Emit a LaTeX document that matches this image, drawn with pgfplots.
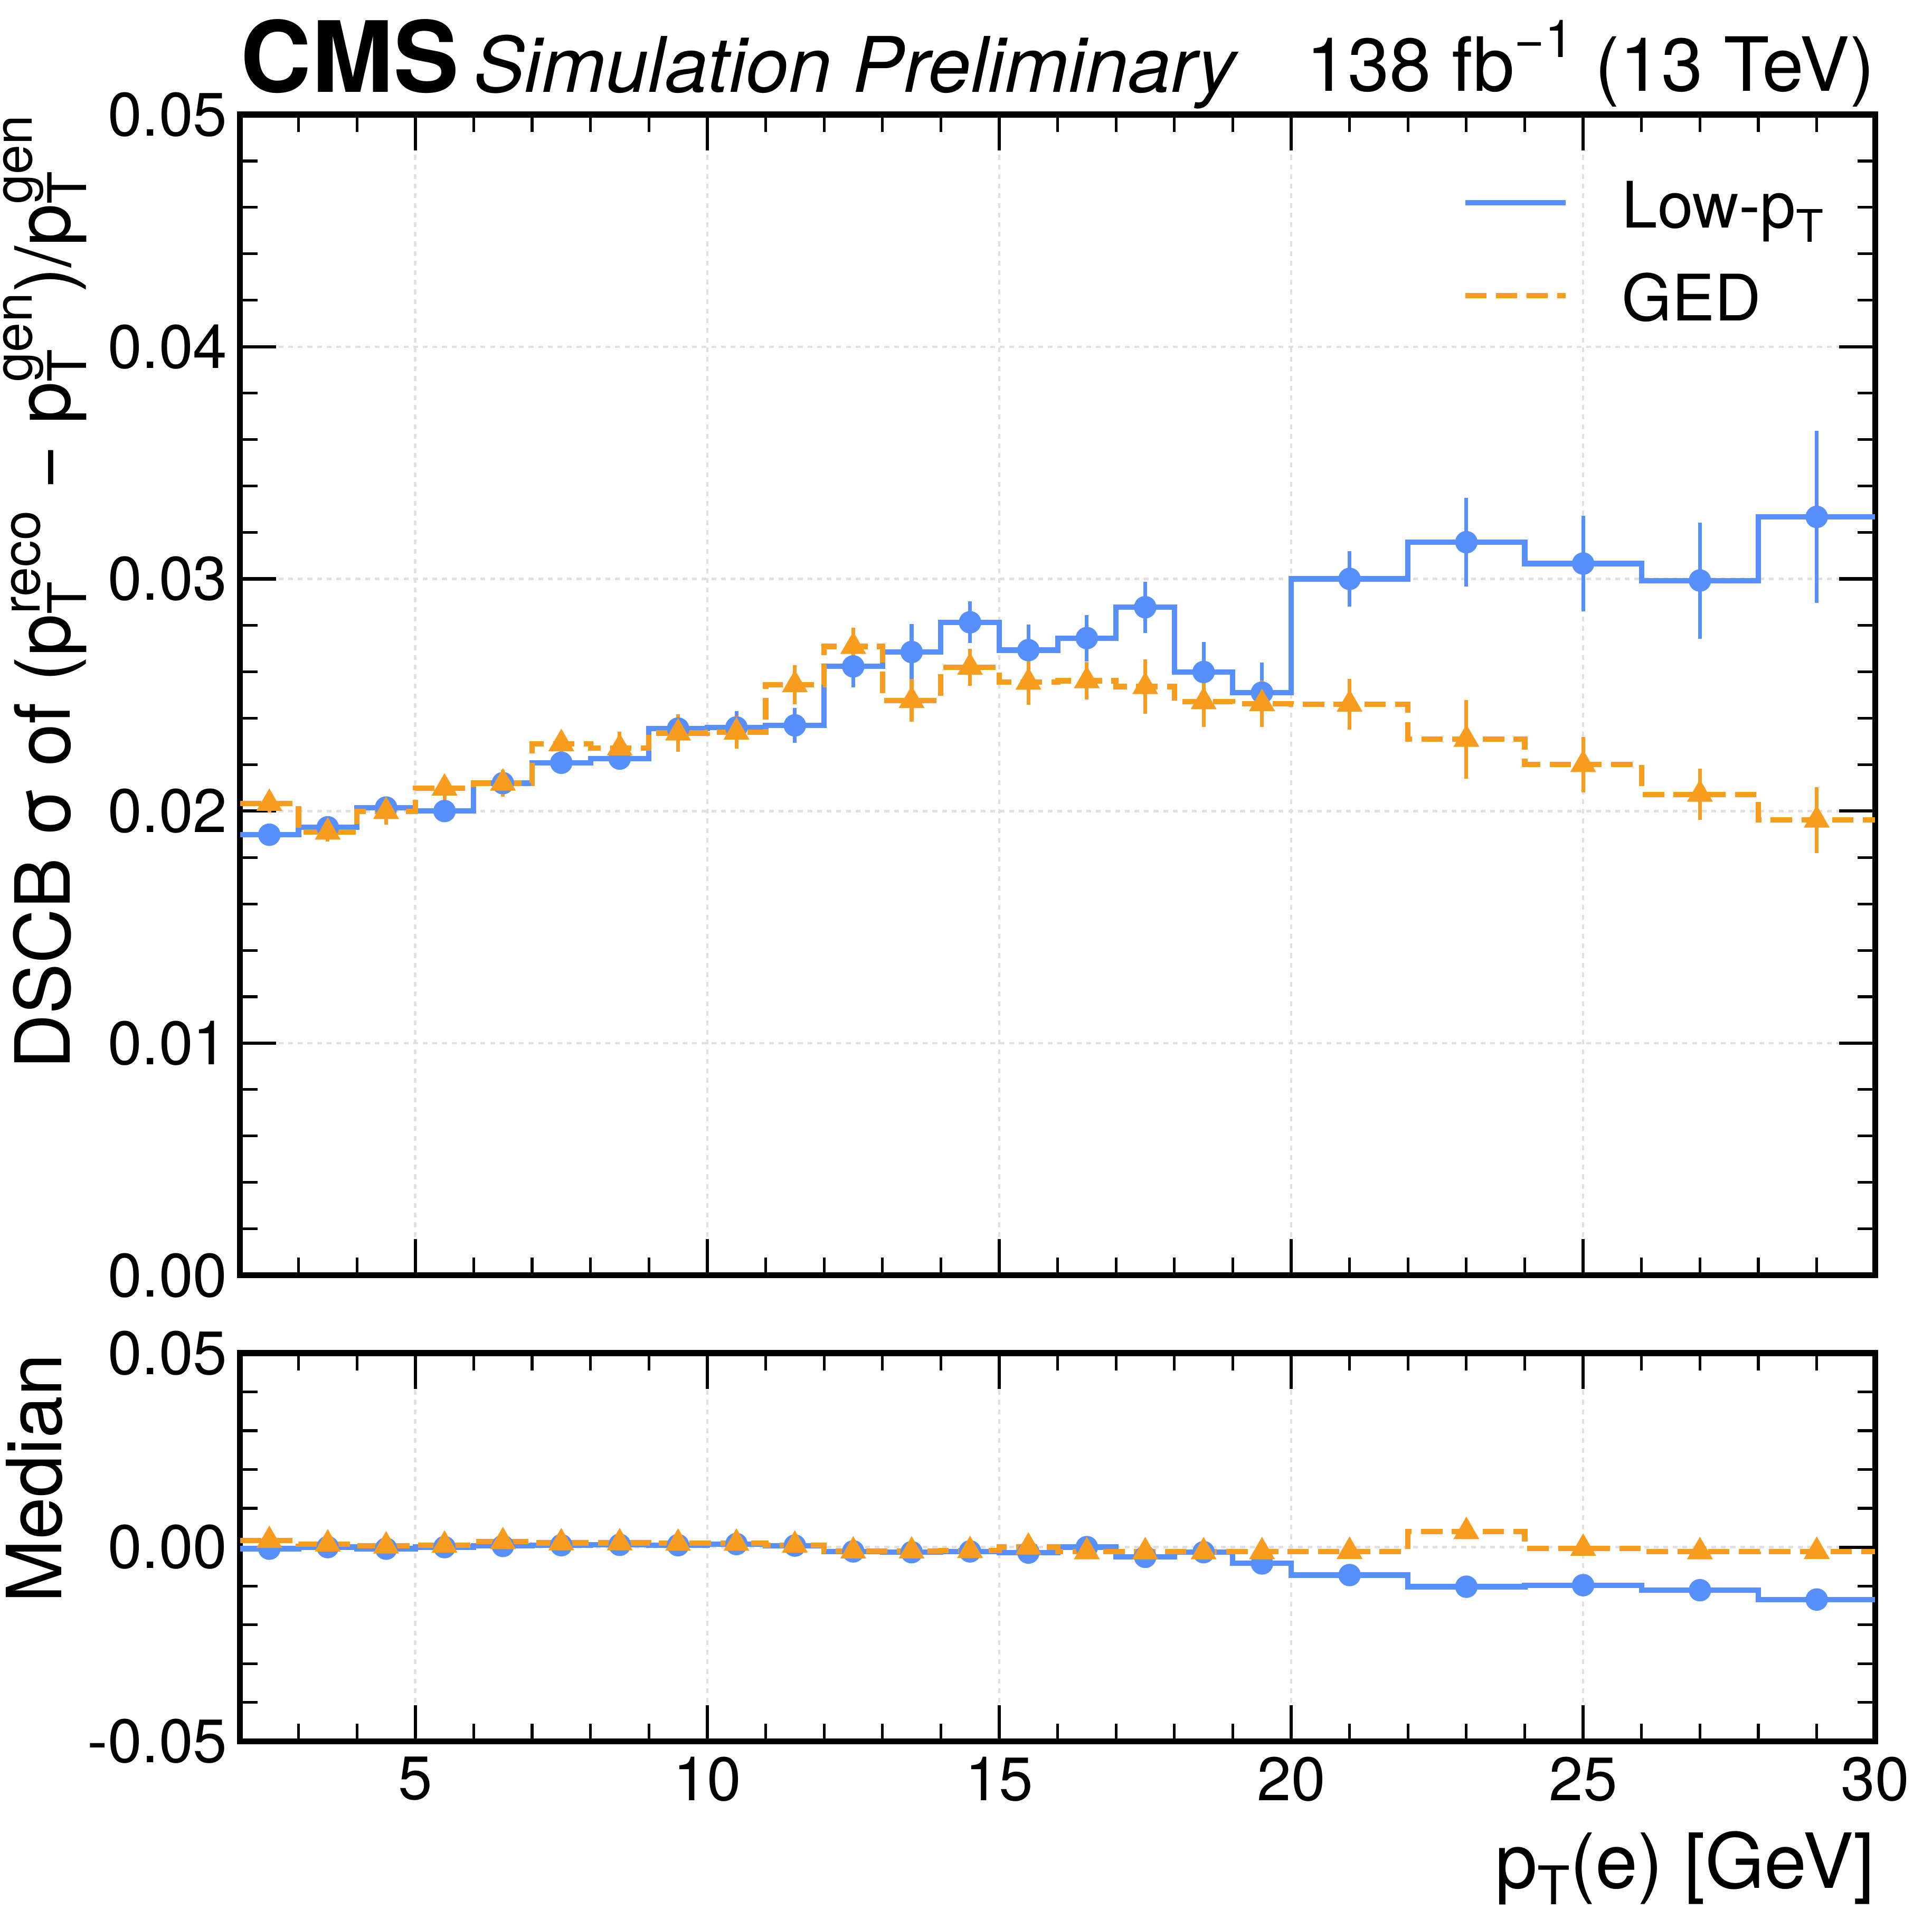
\documentclass[border=0pt]{standalone}
\usepackage{fontspec}
\setmainfont{TeX Gyre Heros}
\usepackage{graphicx}
\usepackage{pgfplots}
\pgfplotsset{compat=1.18}
\definecolor{cmsblue}{HTML}{5790FC}
\definecolor{cmsorange}{HTML}{F89C20}
\newcommand{\ssub}[1]{\raisebox{-0.22em}{\scalebox{0.7}{#1}}}
\newcommand{\ssup}[1]{\raisebox{0.45em}{\scalebox{0.7}{#1}}}
\newcommand{\psubsup}[2]{p\rlap{\ssub{T}}\raisebox{#1}{\scalebox{0.7}{#2}}}
\pgfplotsset{
 cmsaxis/.style={
  scale only axis, width=612.1pt, xmin=2, xmax=30,
  axis line style={line width=2.2pt},
  tick align=inside, xtick pos=both, ytick pos=both,
  xticklabel pos=lower, yticklabel pos=left,
  major tick length=13.5pt, minor tick length=6.6pt,
  major tick style={line width=1.2pt, black},
  minor tick style={line width=1.0pt, black},
  xtick={5,10,15,20,25,30},
  minor xtick={2,3,4,6,7,8,9,11,12,13,14,16,17,18,19,21,22,23,24,26,27,28,29},
  grid=major,
  major grid style={line width=0.9pt, black!12, dash pattern=on 1.8pt off 1.8pt},
  scaled y ticks=false, scaled x ticks=false,
  tick label style={font=\fontsize{23}{27}\selectfont, inner sep=0pt},
  yticklabel style={xshift=-4.6pt},
  xticklabel style={yshift=-5.6pt},
  label style={font=\fontsize{28.5}{34}\selectfont, inner sep=0pt},
 },
 stepblue/.style={const plot, color=cmsblue, line width=2.0pt, no marks},
 steporange/.style={const plot, color=cmsorange, line width=2.0pt, dash pattern=on 8pt off 3.5pt, no marks},
 ptblue/.style={only marks, color=cmsblue, mark=*, mark size=4.0pt,
   error bars/y dir=both, error bars/y explicit, error bars/error mark=none,
   error bars/error bar style={line width=1.4pt, solid, color=cmsblue}},
 ptorange/.style={only marks, color=cmsorange, mark=triangle*, mark size=5.2pt,
   error bars/y dir=both, error bars/y explicit, error bars/error mark=none,
   error bars/error bar style={line width=1.4pt, solid, color=cmsorange}},
}
\begin{document}
\begin{tikzpicture}
\useasboundingbox (-89.9pt,-244.3pt) rectangle (633.4pt,477.4pt);
\begin{axis}[cmsaxis, name=top, at={(0pt,0pt)}, anchor=south west, height=434.5pt,
  ymin=0, ymax=0.05,
  ytick={0,0.01,0.02,0.03,0.04,0.05}, yticklabels={0.00,0.01,0.02,0.03,0.04,0.05},
  minor ytick={0.002,0.004,0.006,0.008,0.012,0.014,0.016,0.018,0.022,0.024,0.026,0.028,0.032,0.034,0.036,0.038,0.042,0.044,0.046,0.048},
  xticklabels={},
  ylabel={DSCB σ of (\psubsup{0.39em}{reco} − \psubsup{0.5em}{gen})/\psubsup{0.5em}{gen}},
  ylabel style={at={(axis description cs:-0.1042,1)}, anchor=base east},
  legend style={at={(axis description cs:0.7476,0.9415)}, anchor=north west, draw=none, fill=none,
    inner sep=0pt, outer sep=0pt, row sep=12.8pt, column sep=20pt,
    font=\fontsize{24}{28}\selectfont, nodes={inner sep=0pt, text height=17pt, text depth=5pt}},
  legend cell align=left,
  legend image code/.code={\draw[#1] (0pt,3.4pt) -- (37.7pt,3.4pt);},
]
\addplot[stepblue] coordinates {(2,0.01898) (3,0.0193) (4,0.02015) (5,0.0200) (6,0.0212) (7,0.02208) (8,0.02226) (9,0.02355) (10,0.0236) (11,0.02369) (12,0.02623) (13,0.02685) (14,0.02813) (15,0.02693) (16,0.02745) (17,0.02878) (18,0.02599) (19,0.0251) (20,0.0300) (22,0.03158) (24,0.03066) (26,0.02993) (28,0.03267) (30,0.03267)};
\addlegendentry{Low-p\ssub{T}}
\addplot[ptblue, forget plot] coordinates {
 (2.5,0.01898) +- (0,0.0003) (3.5,0.0193) +- (0,0.0003) (4.5,0.02015) +- (0,0.0003) (5.5,0.0200) +- (0,0.0003)
 (6.5,0.0212) +- (0,0.0003) (7.5,0.02208) +- (0,0.0004) (8.5,0.02226) +- (0,0.0004) (9.5,0.02355) +- (0,0.0006)
 (10.5,0.0236) +- (0,0.0007) (11.5,0.02369) +- (0,0.00075) (12.5,0.02623) +- (0,0.0009) (13.5,0.02685) +- (0,0.0012)
 (14.5,0.02813) +- (0,0.0009) (15.5,0.02693) +- (0,0.0011) (16.5,0.02745) +- (0,0.001) (17.5,0.02878) +- (0,0.0011)
 (18.5,0.02599) +- (0,0.0013) (19.5,0.0251) +- (0,0.0013) (21,0.0300) +- (0,0.0012) (23,0.03158) +- (0,0.0019)
 (25,0.03066) +- (0,0.00205) (27,0.02993) +- (0,0.0025) (29,0.03267) +- (0,0.0037)};
\addplot[steporange] coordinates {(2,0.02033) (3,0.01909) (4,0.01998) (5,0.02099) (6,0.0212) (7,0.0229) (8,0.02271) (9,0.02336) (10,0.0234) (11,0.02544) (12,0.02709) (13,0.02476) (14,0.02619) (15,0.02555) (16,0.02561) (17,0.02536) (18,0.02471) (19,0.02463) (20,0.0246) (22,0.02309) (24,0.0220) (26,0.02072) (28,0.01961) (30,0.01961)};
\addlegendentry{GED}
\addplot[ptorange, forget plot] coordinates {
 (2.5,0.02033) +- (0,0.0004) (3.5,0.01909) +- (0,0.0004) (4.5,0.01998) +- (0,0.00056) (5.5,0.02099) +- (0,0.0005)
 (6.5,0.0212) +- (0,0.00058) (7.5,0.0229) +- (0,0.00055) (8.5,0.02271) +- (0,0.0007) (9.5,0.02336) +- (0,0.0008)
 (10.5,0.0234) +- (0,0.0007) (11.5,0.02544) +- (0,0.00084) (12.5,0.02709) +- (0,0.0008) (13.5,0.02476) +- (0,0.00092)
 (14.5,0.02619) +- (0,0.0008) (15.5,0.02555) +- (0,0.00097) (16.5,0.02561) +- (0,0.0008) (17.5,0.02536) +- (0,0.00118)
 (18.5,0.02471) +- (0,0.00108) (19.5,0.02463) +- (0,0.001) (21,0.0246) +- (0,0.0011) (23,0.02309) +- (0,0.0017)
 (25,0.0220) +- (0,0.0012) (27,0.02072) +- (0,0.0011) (29,0.01961) +- (0,0.00143)};
\end{axis}
\node[anchor=base west, inner sep=0pt, yshift=8.5pt, font=\fontsize{36.8}{40}\selectfont\bfseries] (cms) at (top.north west) {CMS};
\node[anchor=base west, inner sep=0pt, xshift=5pt, font=\fontsize{28.7}{34}\selectfont\itshape] at (cms.base east) {Simulation Preliminary};
\node[anchor=base east, inner sep=0pt, yshift=8.8pt, font=\fontsize{28}{32}\selectfont] at (top.north east) {138 fb\ssup{−1} (13 TeV)};
\begin{axis}[cmsaxis, at={(0pt,-29.1pt)}, anchor=north west, height=145.3pt,
  ymin=-0.05, ymax=0.05,
  ytick={-0.05,0,0.05}, yticklabels={-0.05,0.00,0.05},
  minor ytick={-0.04,-0.03,-0.02,-0.01,0.01,0.02,0.03,0.04},
  xticklabels={5,10,15,20,25,30},
  xlabel={p\ssub{T}(e) [GeV]},
  xlabel style={at={(axis description cs:1,-0.378)}, anchor=base east},
  ylabel={Median},
  ylabel style={at={(axis description cs:-0.1091,1)}, anchor=base east},
]
\addplot[stepblue] coordinates {(2,-0.0004) (3,0.0) (4,-0.0004) (5,0.0) (6,0.0003) (7,0.0005) (8,0.0006) (9,0.0005) (10,0.0008) (11,0.0004) (12,-0.0011) (13,-0.0013) (14,-0.0011) (15,-0.0014) (16,0.0) (17,-0.0025) (18,-0.0013) (19,-0.0042) (20,-0.0072) (22,-0.0102) (24,-0.0098) (26,-0.0111) (28,-0.0135) (30,-0.0135)};
\addplot[ptblue] coordinates {(2.5,-0.0004) (3.5,0.0) (4.5,-0.0004) (5.5,0.0) (6.5,0.0003) (7.5,0.0005) (8.5,0.0006) (9.5,0.0005) (10.5,0.0008) (11.5,0.0004) (12.5,-0.0011) (13.5,-0.0013) (14.5,-0.0011) (15.5,-0.0014) (16.5,0.0) (17.5,-0.0025) (18.5,-0.0013) (19.5,-0.0042) (21,-0.0072) (23,-0.0102) (25,-0.0098) (27,-0.0111) (29,-0.0135)};
\addplot[steporange] coordinates {(2,0.0017) (3,0.0008) (4,0.0003) (5,0.0005) (6,0.0014) (7,0.0011) (8,0.0011) (9,0.001) (10,0.001) (11,0.0005) (12,-0.001) (13,-0.001) (14,-0.0009) (15,0.0) (16,-0.0012) (17,-0.0012) (18,-0.0012) (19,-0.0012) (20,-0.0011) (22,0.004) (24,-0.0003) (26,-0.0012) (28,-0.0011) (30,-0.0011)};
\addplot[ptorange] coordinates {(2.5,0.0017) (3.5,0.0008) (4.5,0.0003) (5.5,0.0005) (6.5,0.0014) (7.5,0.0011) (8.5,0.0011) (9.5,0.001) (10.5,0.001) (11.5,0.0005) (12.5,-0.001) (13.5,-0.001) (14.5,-0.0009) (15.5,0.0) (16.5,-0.0012) (17.5,-0.0012) (18.5,-0.0012) (19.5,-0.0012) (21,-0.0011) (23,0.004) (25,-0.0003) (27,-0.0012) (29,-0.0011)};
\end{axis}
\end{tikzpicture}
\end{document}
